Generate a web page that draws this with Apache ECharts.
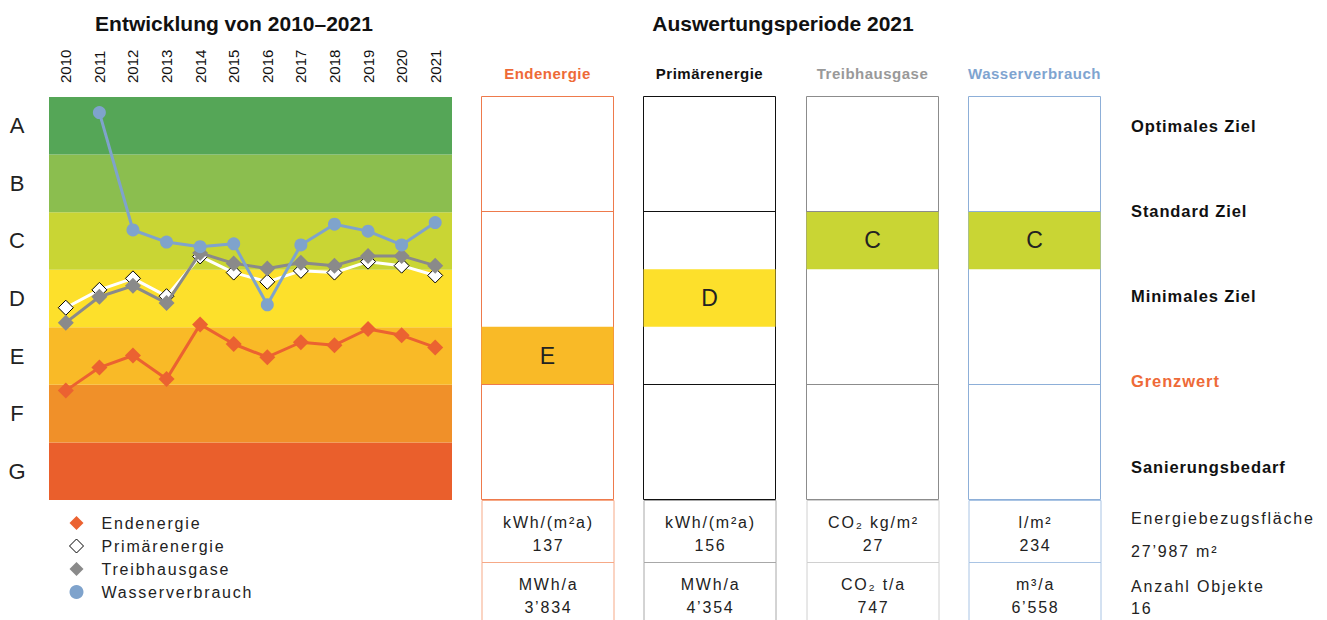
<!DOCTYPE html>
<html>
<head>
<meta charset="utf-8">
<script src="https://cdn.jsdelivr.net/npm/echarts@6/dist/echarts.min.js"></script>
<style>
html,body{margin:0;padding:0;background:#fff}
#c{width:1327px;height:620px}
#c text[style*="trk18"]{letter-spacing:1.8px}
#c text[style*="trk09"]{letter-spacing:0.9px}
#c text[style*="trk05"]{letter-spacing:0.5px}
</style>
</head>
<body>
<div id="c"></div>
<script>
// ---------- data ----------
const years = ['2010','2011','2012','2013','2014','2015','2016','2017','2018','2019','2020','2021'];
const grades = ['G','F','E','D','C','B','A']; // bottom to top
const endenergie     = [1.90, 2.30, 2.51, 2.10, 3.05, 2.71, 2.48, 2.74, 2.69, 2.97, 2.86, 2.65];
const primaerenergie = [3.34, 3.65, 3.85, 3.54, 4.23, 3.95, 3.79, 3.98, 3.95, 4.14, 4.07, 3.90];
const treibhausgase  = [3.08, 3.53, 3.72, 3.42, 4.29, 4.11, 4.02, 4.12, 4.07, 4.24, 4.24, 4.07];
const wasserverbrauch= [null, 6.73, 4.69, 4.48, 4.40, 4.45, 3.39, 4.43, 4.79, 4.67, 4.43, 4.82];

const columns = ['Endenergie','Primärenergie','Treibhausgase','Wasserverbrauch'];
const ratings = ['E','D','C','C'];
const intensityUnits = ['kWh/(m²a)','kWh/(m²a)','CO₂ kg/m²','l/m²'];
const intensityValues = ['137','156','27','234'];
const totalUnits = ['MWh/a','MWh/a','CO₂ t/a','m³/a'];
const totalValues = ['3’834','4’354','747','6’558'];
const targetLabels = ['Optimales Ziel','Standard Ziel','Minimales Ziel','Grenzwert','Sanierungsbedarf'];
const infoLines = ['Energiebezugsfläche','27’987 m²','Anzahl Objekte','16'];
const groupBoundaries = [5, 2]; // B/C and E/F

// ---------- styles ----------
const FONT = 'Liberation Sans';
const FONT_BODY = 'Liberation Sans, trk18';
const FONT_LAB = 'Liberation Sans, trk09';
const FONT_HEAD = 'Liberation Sans, trk05';
const bandColors = ['#EA5F2C','#F09029','#F9BA27','#FDE02B','#C9D534','#8BBE4F','#55A657'];
const colColors = ['#EE7A4C','#111111','#8C8C8C','#8DAFD8'];
const colHeadColors = ['#EE6A38','#111111','#999999','#7FA4D0'];
const tableColors = ['#F6A987','#A8A8A8','#D0D0D0','#A9C4E4'];
const GT = 96.5, GH = 403;
const colLeft = [481.5, 643.5, 806.5, 968.5], colW = 132;

const grid = [{left:49, top:97, width:403, height:GH}];
const xAxis = [{
  type:'category', data:years, position:'top', gridIndex:0,
  boundaryGap:true, axisLine:{show:false}, axisTick:{show:false},
  axisLabel:{rotate:90, margin:14, fontSize:15, color:'#111', fontFamily:FONT, interval:0}
}];
const yAxis = [
  {type:'value', min:0, max:7, interval:1, gridIndex:0, show:false},
  {type:'category', data:grades, gridIndex:0, position:'left', boundaryGap:true,
   axisLine:{show:false}, axisTick:{show:false}, splitLine:{show:false},
   axisLabel:{align:'center', margin:32, fontSize:22, color:'#222', fontFamily:FONT}}
];

const series = [];
series.push({
  type:'line', xAxisIndex:0, yAxisIndex:0, data:[], z:1, silent:true,
  markArea:{silent:true, data: grades.map((g,i)=>[{yAxis:i, itemStyle:{color:bandColors[i]}},{yAxis:i+1}])}
});
series.push({name:'Primärenergie', type:'line', data:primaerenergie, z:3,
  symbol:'diamond', symbolSize:15, lineStyle:{color:'#ffffff', width:3},
  itemStyle:{color:'#ffffff', borderColor:'#000', borderWidth:1}});
series.push({name:'Treibhausgase', type:'line', data:treibhausgase, z:4,
  symbol:'diamond', symbolSize:16, lineStyle:{color:'#8A8A8A', width:3},
  itemStyle:{color:'#8A8A8A'}});
series.push({name:'Wasserverbrauch', type:'line', data:wasserverbrauch, z:5,
  symbol:'circle', symbolSize:13, lineStyle:{color:'#7FA3CC', width:3},
  itemStyle:{color:'#7FA3CC'}});
series.push({name:'Endenergie', type:'line', data:endenergie, z:5,
  symbol:'diamond', symbolSize:16, lineStyle:{color:'#EB6231', width:3},
  itemStyle:{color:'#EB6231'}});

columns.forEach((name, i) => {
  const gi = i + 1;
  grid.push({left:colLeft[i], top:GT, width:colW, height:GH, show:true,
    borderColor:colColors[i], borderWidth:1, backgroundColor:'#fff'});
  xAxis.push({type:'category', data:[name], gridIndex:gi, position:'top',
    axisLine:{show:false}, axisTick:{show:false},
    axisLabel:{margin:16, fontSize:15, fontWeight:'bold', color:colHeadColors[i], fontFamily:FONT_HEAD}});
  yAxis.push({type:'value', min:0, max:7, gridIndex:gi, show:false});
  const gIdx = grades.indexOf(ratings[i]);
  series.push({type:'bar', xAxisIndex:i+1, yAxisIndex:i+2, stack:'r'+i, data:[gIdx],
    barWidth:'100%', itemStyle:{color:'transparent'}, silent:true, z:2,
    markLine:{silent:true, symbol:['none','none'], label:{show:false},
      lineStyle:{color:colColors[i], type:'solid', width:1},
      data: groupBoundaries.map(v=>({yAxis:v}))}});
  series.push({type:'bar', xAxisIndex:i+1, yAxisIndex:i+2, stack:'r'+i, data:[1],
    barWidth:'100%', itemStyle:{color:bandColors[gIdx]}, silent:true, z:3,
    label:{show:true, position:'inside', formatter:()=>ratings[i], fontSize:23, color:'#222', fontFamily:FONT}});
});

const graphic = [];
columns.forEach((name, i) => {
  const cx = colLeft[i] + colW/2 + 1;
  graphic.push({type:'rect', shape:{x:colLeft[i]+0.5, y:500.5, width:colW, height:62}, style:{fill:'none', stroke:tableColors[i], lineWidth:1}, z:1});
  graphic.push({type:'rect', shape:{x:colLeft[i]+0.5, y:562.5, width:colW, height:80}, style:{fill:'none', stroke:tableColors[i], lineWidth:1}, z:1});
  [[intensityUnits[i],522],[intensityValues[i],545],[totalUnits[i],584],[totalValues[i],607]].forEach(([t,y])=>{
    graphic.push({type:'text', x:cx, y:y, style:{text:t, fontSize:16, fontFamily:FONT_BODY, fill:'#222', align:'center', verticalAlign:'middle'}, z:2});
  });
});
const targetY = [126, 211, 296, 381, 467];
targetLabels.forEach((t,i)=>{
  graphic.push({type:'text', x:1131, y:targetY[i], style:{text:t, fontSize:16.5, fontWeight:'bold', fontFamily:FONT_LAB, fill: i===3 ? '#EE6A38' : '#111', align:'left', verticalAlign:'middle'}});
});
const infoY = [518, 551, 586, 608];
infoLines.forEach((t,i)=>{
  graphic.push({type:'text', x:1131, y:infoY[i], style:{text:t, fontSize:16, fontFamily:FONT_BODY, fill:'#222', align:'left', verticalAlign:'middle'}});
});

const option = {
  animation:false,
  backgroundColor:'#fff',
  title:[
    {text:'Entwicklung von 2010–2021', left:229, top:8, textAlign:'center', textStyle:{fontSize:21, fontWeight:'bold', color:'#111', fontFamily:FONT}},
    {text:'Auswertungsperiode 2021', left:778, top:8, textAlign:'center', textStyle:{fontSize:21, fontWeight:'bold', color:'#111', fontFamily:FONT}}
  ],
  legend:{
    orient:'vertical', left:64, top:510, itemWidth:14, itemHeight:14, itemGap:7,
    textStyle:{fontSize:16, color:'#222', fontFamily:FONT_BODY, padding:[0,0,0,13]},
    selectedMode:false,
    data:[
      {name:'Endenergie', icon:'diamond'},
      {name:'Primärenergie', icon:'diamond', itemStyle:{color:'#fff', borderColor:'#000', borderWidth:1}},
      {name:'Treibhausgase', icon:'diamond'},
      {name:'Wasserverbrauch', icon:'circle'}
    ]
  },
  grid, xAxis, yAxis, series, graphic
};
const chart = echarts.init(document.getElementById('c'), null, {renderer:'svg'});
chart.setOption(option);
</script>
</body>
</html>
